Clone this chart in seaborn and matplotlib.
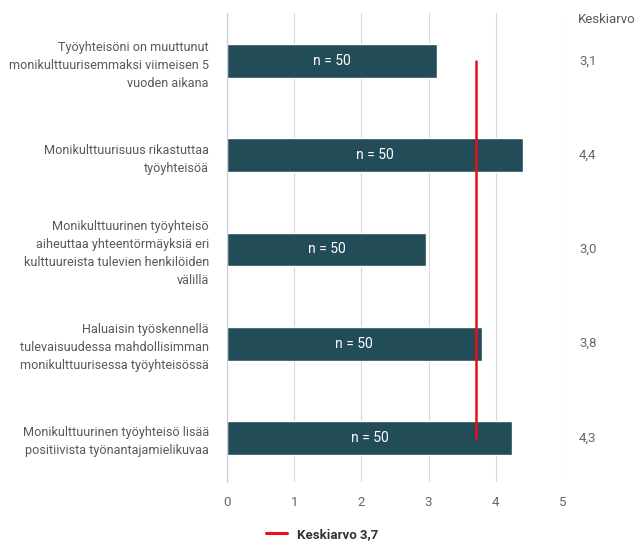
import matplotlib
matplotlib.use("Agg")
import matplotlib.pyplot as plt
import seaborn as sns
import pandas as pd
from matplotlib.lines import Line2D

categories = [
    "Työyhteisöni on muuttunut\nmonikulttuurisemmaksi viimeisen 5\nvuoden aikana",
    "Monikulttuurisuus rikastuttaa\ntyöyhteisöä",
    "Monikulttuurinen työyhteisö\naiheuttaa yhteentörmäyksiä eri\nkulttuureista tulevien henkilöiden\nvälillä",
    "Haluaisin työskennellä\ntulevaisuudessa mahdollisimman\nmonikulttuurisessa työyhteisössä",
    "Monikulttuurinen työyhteisö lisää\npositiivista työnantajamielikuvaa",
]
values = [3.12, 4.40, 2.96, 3.79, 4.25]
mean_labels = ["3,1", "4,4", "3,0", "3,8", "4,3"]
n_labels = ["n = 50"] * 5
overall_mean = 3.71
overall_label = "Keskiarvo 3,7"
xticks = [0, 1, 2, 3, 4, 5]

sns.set_theme(style="white")
plt.rcParams["font.family"] = ["Roboto", "DejaVu Sans"]

df = pd.DataFrame({"cat": categories, "val": values})

fig = plt.figure(figsize=(6.44, 5.46), dpi=100)
ax = fig.add_axes([0.3525, 0.117, 0.874 - 0.3525, 0.976 - 0.117])

sns.barplot(data=df, x="val", y="cat", orient="h", color="#234C59",
            width=0.36, saturation=1, ax=ax)

ax.set_xlim(0, 5)
ax.set_ylim(4.47, -0.51)
ax.set_xticks(xticks)
ax.set_xticklabels([str(t) for t in xticks])
ax.grid(axis="x", color="#d9d9d9", linewidth=0.8)
ax.set_axisbelow(True)
for s in ["top", "right", "bottom"]:
    ax.spines[s].set_visible(False)
ax.spines["left"].set_color("#c5cde0")
ax.spines["left"].set_linewidth(0.8)
ax.set_xlabel("")
ax.set_ylabel("")
ax.tick_params(axis="x", length=0, pad=10, labelsize=9.5, colors="#666666")
ax.tick_params(axis="y", length=0, pad=13, labelsize=9.1, colors="#595959")
for lab in ax.get_yticklabels():
    lab.set_linespacing(1.5)

# n labels centered in bars
for i, (v, t) in enumerate(zip(values, n_labels)):
    ax.text(v / 2, i, t, ha="center", va="center", color="white", fontsize=10)

# mean line
ax.plot([overall_mean, overall_mean], [0, len(values) - 1], color="#e8101a", lw=1.8)

# right column
ax.text(1.045, 1.0, "Keskiarvo", transform=ax.transAxes, ha="left", va="top",
        fontsize=9.5, color="#595959")
trans = matplotlib.transforms.blended_transform_factory(ax.transAxes, ax.transData)
for i, m in enumerate(mean_labels):
    ax.text(1.048, i, m, transform=trans, ha="left", va="center",
            fontsize=9.5, color="#666666")

handle = Line2D([0], [0], color="#e8101a", lw=2.2)
leg = fig.legend([handle], [overall_label], loc="lower center",
                 bbox_to_anchor=(0.5, -0.012), frameon=False, handlelength=1.6,
                 prop={"weight": "bold", "size": 9.5})
for t in leg.get_texts():
    t.set_color("#333333")

fig.savefig("out.png", dpi=100)
